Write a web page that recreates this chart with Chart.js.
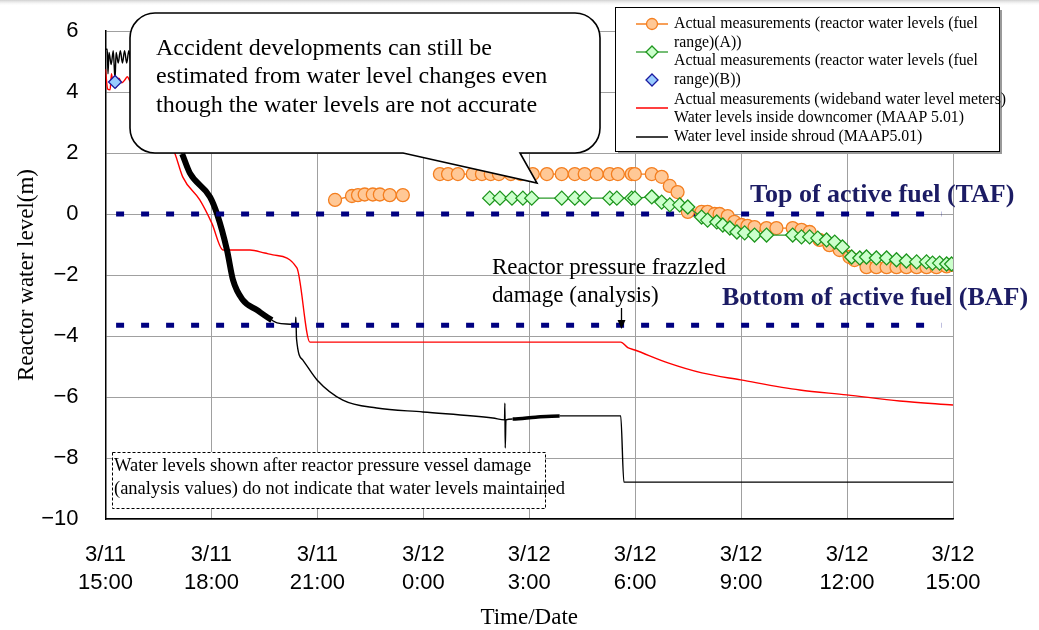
<!DOCTYPE html>
<html>
<head>
<meta charset="utf-8">
<script src="https://cdn.jsdelivr.net/npm/chart.js@4"></script>
<style>
html, body { margin: 0; padding: 0; background: #fff; }
</style>
</head>
<body>
<canvas id="levelChart" width="1039" height="630"></canvas>
<script>
// hours after 3/11 15:00, reactor water level in m
var xTickLabels = [['3/11', '15:00'], ['3/11', '18:00'], ['3/11', '21:00'], ['3/12', '0:00'], ['3/12', '3:00'],
    ['3/12', '6:00'], ['3/12', '9:00'], ['3/12', '12:00'], ['3/12', '15:00']];

var fuelRangeA = [[6.50, 0.46], [6.98, 0.59], [7.15, 0.62], [7.34, 0.64], [7.57, 0.64], [7.77, 0.64], [8.05, 0.62], [8.42, 0.62],
    [9.00, null],
    [9.47, 1.31], [9.70, 1.31], [9.98, 1.31], [10.40, 1.31], [10.66, 1.31], [10.91, 1.31], [11.14, 1.31], [11.48, 1.31],
    [11.76, 1.31], [12.10, 1.31], [12.50, 1.31], [12.92, 1.31], [13.29, 1.31], [13.57, 1.31], [13.91, 1.31], [14.28, 1.31],
    [14.51, 1.31], [14.90, 1.31], [14.99, 1.31], [15.47, 1.31], [15.75, 1.22], [15.98, 0.92], [16.20, 0.72], [16.49, 0.07],
    [16.88, 0.07], [17.05, 0.07], [17.25, 0.00], [17.39, 0.00], [17.62, -0.07], [17.81, -0.26], [18.01, -0.36], [18.18, -0.39],
    [18.38, -0.43], [18.72, -0.46], [19.00, -0.46], [19.46, -0.46], [19.71, -0.52], [19.94, -0.59], [20.22, -0.85], [20.50, -1.02],
    [20.79, -1.18], [21.07, -1.41], [21.21, -1.51], [21.55, -1.74], [21.83, -1.74], [22.12, -1.74], [22.40, -1.74], [22.68, -1.74],
    [22.97, -1.74], [23.25, -1.74], [23.53, -1.74], [23.82, -1.72], [23.99, -1.67]];

var fuelRangeB = [[10.88, 0.52], [11.17, 0.52], [11.51, 0.52], [11.82, 0.52], [12.07, 0.52], [12.92, 0.52], [13.29, 0.52],
    [13.57, 0.52], [14.28, 0.52], [14.48, 0.52], [14.90, 0.52], [14.99, 0.52], [15.47, 0.56], [15.75, 0.39], [15.98, 0.30],
    [16.26, 0.30], [16.49, 0.23], [16.88, -0.10], [17.05, -0.20], [17.31, -0.26], [17.48, -0.36], [17.68, -0.46], [17.88, -0.59],
    [18.10, -0.62], [18.38, -0.69], [18.72, -0.69], [19.46, -0.69], [19.71, -0.75], [19.94, -0.75], [20.17, -0.79], [20.42, -0.85],
    [20.65, -0.92], [20.87, -1.08], [21.13, -1.41], [21.36, -1.44], [21.55, -1.41], [21.83, -1.44], [22.12, -1.44], [22.40, -1.50],
    [22.68, -1.54], [22.97, -1.57], [23.25, -1.57], [23.42, -1.61], [23.62, -1.61], [23.82, -1.64], [23.96, -1.64]];

var fuelRangeBlue = [[0.27, 4.33]];

var downcomer = [[0.00, 4.75], [0.06, 4.10], [0.13, 4.07], [0.17, 4.60], [0.22, 4.20], [0.30, 4.15], [0.38, 4.45], [0.46, 4.30],
    [0.55, 4.40], [0.62, 4.50], [0.70, 4.35], [1.00, 4.30], [1.40, 3.60], [1.80, 2.40], [1.97, 1.97], [2.19, 1.21], [2.67, 0.46],
    [3.01, -0.30], [3.33, -1.18], [4.09, -1.18], [4.51, -1.28], [4.74, -1.34], [5.42, -1.77], [5.79, -4.20], [14.59, -4.20],
    [14.79, -4.38], [14.99, -4.46], [15.95, -4.89], [16.89, -5.21], [17.99, -5.44], [19.66, -5.77], [20.99, -5.93], [22.49, -6.13],
    [24.00, -6.26]];

var shroud = [[0.00, 5.40], [0.05, 5.40], [0.07, 4.60], [0.10, 5.30], [0.16, 4.90], [0.22, 5.35], [0.27, 4.40], [0.30, 5.30],
    [0.36, 4.95], [0.42, 5.35], [0.48, 4.95], [0.54, 5.35], [0.60, 4.95], [0.66, 5.35], [0.72, 4.95], [1.20, 4.60], [1.70, 3.20],
    [2.17, 1.97], [2.39, 1.34], [2.96, 0.56], [3.16, 0.00], [3.44, -1.18], [3.61, -2.16], [3.89, -2.82], [4.29, -3.15], [4.71, -3.48],
    [4.86, -3.57], [5.31, -3.62], [5.38, -3.64], [5.39, -3.38], [5.41, -4.10], [5.59, -4.79], [5.99, -5.44], [6.72, -6.10],
    [7.68, -6.36], [8.99, -6.49], [10.97, -6.69], [11.30, -6.75], [11.31, -6.20], [11.32, -7.67], [11.34, -6.75], [11.53, -6.72],
    [12.18, -6.66], [12.86, -6.62], [14.59, -6.62], [14.68, -8.79], [24.00, -8.79]];

var fuelMarks = [0, -3.65];        // TAF, BAF
var fuelMarkSpan = [0.30, 23.67];
var damageHour = 14.6;

var serif = "'Liberation Serif', 'Times New Roman', serif";
var sans = "'Liberation Sans', Arial, sans-serif";

function markLine(level) {
    return fuelMarkSpan.map(function (h) { return [h, level]; });
}

function justify(ctx, text, x, y, width) {
    var words = text.split(' ');
    var total = 0;
    words.forEach(function (w) { total += ctx.measureText(w).width; });
    var gap = (width - total) / (words.length - 1);
    var cx = x;
    words.forEach(function (w) {
        ctx.fillText(w, cx, y);
        cx += ctx.measureText(w).width + gap;
    });
}

function diamond(ctx, x, y, r, fill, stroke) {
    ctx.beginPath();
    ctx.moveTo(x, y - r); ctx.lineTo(x + r, y); ctx.lineTo(x, y + r); ctx.lineTo(x - r, y);
    ctx.closePath();
    ctx.fillStyle = fill; ctx.fill();
    ctx.strokeStyle = stroke; ctx.lineWidth = 1.3; ctx.stroke();
}

var overlay = {
    id: 'overlay',
    beforeDatasetsDraw: function (chart) {
        var ctx = chart.ctx;
        ctx.save();
        // note box
        ctx.fillStyle = '#fff';
        ctx.fillRect(112, 452, 433, 56);
        ctx.setLineDash([3, 2]);
        ctx.strokeStyle = '#000';
        ctx.lineWidth = 1;
        ctx.strokeRect(112.5, 452.5, 433, 56);
        ctx.setLineDash([]);
        ctx.fillStyle = '#000';
        ctx.font = '18.5px ' + serif;
        ctx.textBaseline = 'middle';
        ctx.fillText('Water levels shown after reactor pressure vessel damage', 114, 466);
        ctx.fillText('(analysis values) do not indicate that water levels maintained', 114, 489);
        ctx.restore();
    },
    afterDatasetsDraw: function (chart) {
        var ctx = chart.ctx;
        var xs = chart.scales.x;
        ctx.save();

        // top edge shade
        var g = ctx.createLinearGradient(0, 0, 0, 6);
        g.addColorStop(0, '#d0d0d0');
        g.addColorStop(1, 'rgba(255,255,255,0)');
        ctx.fillStyle = g;
        ctx.fillRect(0, 0, 1039, 6);

        // callout
        var l = 130, t = 13, r = 600, b = 153, rad = 25;
        ctx.beginPath();
        ctx.moveTo(l + rad, t);
        ctx.lineTo(r - rad, t); ctx.arcTo(r, t, r, t + rad, rad);
        ctx.lineTo(r, b - rad); ctx.arcTo(r, b, r - rad, b, rad);
        ctx.lineTo(520, b); ctx.lineTo(537, 183); ctx.lineTo(403, b);
        ctx.lineTo(l + rad, b); ctx.arcTo(l, b, l, b - rad, rad);
        ctx.lineTo(l, t + rad); ctx.arcTo(l, t, l + rad, t, rad);
        ctx.closePath();
        ctx.fillStyle = '#fff';
        ctx.fill();
        ctx.strokeStyle = '#000';
        ctx.lineWidth = 1.6;
        ctx.stroke();
        ctx.fillStyle = '#000';
        ctx.font = '24px ' + serif;
        ctx.textBaseline = 'alphabetic';
        ctx.fillText('Accident developments can still be', 156, 55);
        ctx.fillText('estimated from water level changes even', 156, 83);
        ctx.fillText('though the water levels are not accurate', 156, 112);

        // legend box
        ctx.fillStyle = '#9a9a9a';
        ctx.fillRect(618, 10, 384, 144);
        ctx.fillStyle = '#fff';
        ctx.fillRect(615, 7, 384, 144);
        ctx.strokeStyle = '#000';
        ctx.lineWidth = 1;
        ctx.strokeRect(615.5, 7.5, 384, 144);

        ctx.lineWidth = 1.5;
        ctx.strokeStyle = '#f47f20';
        ctx.beginPath(); ctx.moveTo(636, 24); ctx.lineTo(668, 24); ctx.stroke();
        ctx.beginPath(); ctx.arc(652, 24, 5.5, 0, Math.PI * 2);
        ctx.fillStyle = '#ffc896'; ctx.fill(); ctx.lineWidth = 1.3; ctx.stroke();
        ctx.strokeStyle = '#2a9a2a'; ctx.lineWidth = 1.3;
        ctx.beginPath(); ctx.moveTo(636, 52); ctx.lineTo(668, 52); ctx.stroke();
        diamond(ctx, 652, 52, 6, '#ccffcc', '#1e961e');
        diamond(ctx, 652, 80, 6, '#99ccff', '#1a1aa0');
        ctx.strokeStyle = '#ff0000'; ctx.lineWidth = 1.5;
        ctx.beginPath(); ctx.moveTo(636, 108); ctx.lineTo(668, 108); ctx.stroke();
        ctx.strokeStyle = '#000';
        ctx.beginPath(); ctx.moveTo(636, 137); ctx.lineTo(668, 137); ctx.stroke();

        ctx.fillStyle = '#000';
        ctx.font = '15.8px ' + serif;
        ctx.textBaseline = 'middle';
        justify(ctx, 'Actual measurements (reactor water levels (fuel', 674, 24, 304);
        ctx.fillText('range)(A))', 674, 43);
        justify(ctx, 'Actual measurements (reactor water levels (fuel', 674, 61, 304);
        ctx.fillText('range)(B))', 674, 80);
        ctx.fillText('Actual measurements (wideband water level meters)', 674, 100);
        ctx.fillText('Water levels inside downcomer (MAAP 5.01)', 674, 118);
        ctx.fillText('Water level inside shroud (MAAP5.01)', 674, 137);

        // fuel level labels
        ctx.fillStyle = '#1c1c64';
        ctx.font = 'bold 26px ' + serif;
        ctx.fillText('Top of active fuel (TAF)', 750, 195);
        ctx.fillText('Bottom of active fuel (BAF)', 722, 298);

        // vessel damage note and arrow
        ctx.fillStyle = '#000';
        ctx.font = '23px ' + serif;
        ctx.fillText('Reactor pressure frazzled', 492, 268);
        ctx.fillText('damage (analysis)', 492, 296);
        var ax = Math.round(xs.getPixelForValue(damageHour)) + 0.5;
        ctx.strokeStyle = '#000';
        ctx.lineWidth = 1.3;
        ctx.beginPath(); ctx.moveTo(ax, 308); ctx.lineTo(ax, 322); ctx.stroke();
        ctx.beginPath(); ctx.moveTo(ax - 4, 320); ctx.lineTo(ax + 4, 320); ctx.lineTo(ax, 329); ctx.closePath(); ctx.fill();

        ctx.restore();
    }
};

var levelChart = new Chart(document.getElementById('levelChart'), {
    type: 'line',
    data: {
        datasets: [{
            label: 'Actual measurements (reactor water levels (fuel range)(A))',
            data: fuelRangeA,
            borderColor: '#f47f20',
            backgroundColor: '#ffc896',
            borderWidth: 1.3,
            pointRadius: 6.5,
            pointBorderWidth: 1.3,
            pointBorderColor: '#f47f20',
            pointBackgroundColor: '#ffc896',
            spanGaps: false,
            order: 1
        }, {
            label: 'Actual measurements (reactor water levels (fuel range)(B))',
            data: fuelRangeB,
            borderColor: '#2a9a2a',
            borderWidth: 1.3,
            pointStyle: 'rectRot',
            pointRadius: 7,
            pointBorderWidth: 1.3,
            pointBorderColor: '#1e961e',
            pointBackgroundColor: '#ccffcc',
            order: 0
        }, {
            label: 'range (B)',
            data: fuelRangeBlue,
            showLine: false,
            pointStyle: 'rectRot',
            pointRadius: 6.5,
            pointBorderWidth: 1.3,
            pointBorderColor: '#1a1aa0',
            pointBackgroundColor: '#99ccff',
            order: 0
        }, {
            label: 'TAF',
            data: markLine(fuelMarks[0]),
            borderColor: '#000080',
            borderWidth: 5,
            borderDash: [8, 17],
            pointRadius: 0,
            order: 2
        }, {
            label: 'BAF',
            data: markLine(fuelMarks[1]),
            borderColor: '#000080',
            borderWidth: 5,
            borderDash: [8, 17],
            pointRadius: 0,
            order: 2
        }, {
            label: 'Water levels inside downcomer (MAAP 5.01)',
            data: downcomer,
            borderColor: '#ff0000',
            borderWidth: 1.4,
            pointRadius: 0,
            cubicInterpolationMode: 'monotone',
            order: 4
        }, {
            label: 'Water level inside shroud (MAAP5.01)',
            data: shroud,
            borderColor: '#000000',
            borderWidth: 1.4,
            pointRadius: 0,
            cubicInterpolationMode: 'monotone',
            segment: {
                borderWidth: function (c) {
                    var h = c.p0.parsed.x;
                    if (h >= 2.0 && h < 4.3) return 6;
                    if (h >= 11.4 && h < 12.2) return 3.5;
                    return 1.4;
                }
            },
            order: 3
        }]
    },
    options: {
        responsive: false,
        animation: false,
        layout: { padding: { top: 31, right: 86, bottom: 0, left: 0 } },
        plugins: {
            legend: { display: false },
            tooltip: { enabled: false }
        },
        scales: {
            x: {
                type: 'linear',
                min: 0,
                max: 24,
                afterFit: function (s) { s.height = 111; s.paddingLeft = 0; s.paddingRight = 0; },
                ticks: {
                    stepSize: 3,
                    autoSkip: false,
                    maxRotation: 0,
                    padding: 22,
                    color: '#000',
                    font: { family: sans, size: 22, lineHeight: 1.27 },
                    callback: function (v, i) { return xTickLabels[i]; }
                },
                grid: { color: '#a0a0a0', drawTicks: false },
                border: { color: '#000', width: 1.5 },
                title: {
                    display: true,
                    text: 'Time/Date',
                    color: '#000',
                    font: { family: serif, size: 23, lineHeight: 1 },
                    padding: { top: 0, bottom: 1 }
                }
            },
            y: {
                min: -10,
                max: 6,
                afterFit: function (s) { s.width = 105.5; s.paddingTop = 0; s.paddingBottom = 0; },
                ticks: {
                    stepSize: 2,
                    padding: 27,
                    color: '#000',
                    font: { family: sans, size: 22 },
                    callback: function (v) { return v < 0 ? '\u2212' + Math.abs(v) : String(v); }
                },
                grid: { color: '#a0a0a0', drawTicks: false },
                border: { color: '#000', width: 1.5 },
                title: {
                    display: true,
                    text: 'Reactor water level(m)',
                    color: '#000',
                    font: { family: serif, size: 23, lineHeight: 1 },
                    padding: { top: 15, bottom: 0 }
                }
            }
        }
    },
    plugins: [overlay]
});
</script>
</body>
</html>
